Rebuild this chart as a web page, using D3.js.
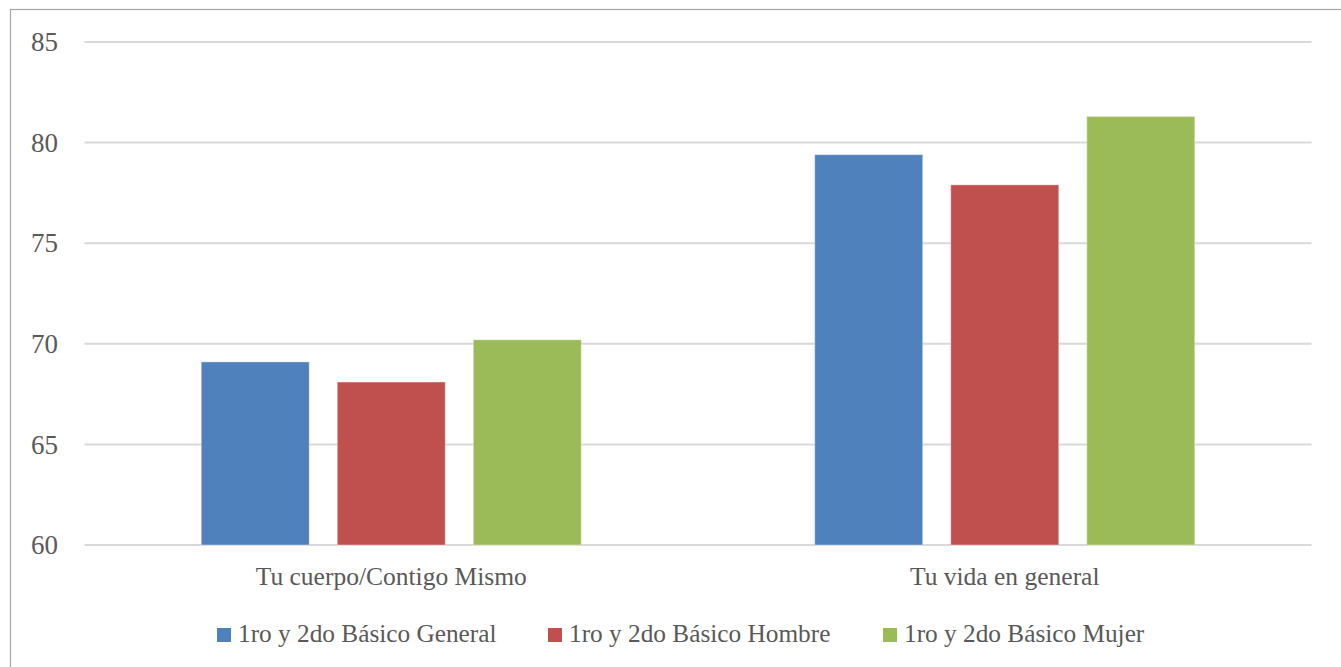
<!DOCTYPE html>
<html><head><meta charset="utf-8">
<script src="https://cdn.jsdelivr.net/npm/d3@7"></script>
<style>body{margin:0;background:#fff}svg{display:block}</style>
</head><body>
<svg id="c" width="1341" height="667"></svg>
<script>
const categories = ["Tu cuerpo/Contigo Mismo", "Tu vida en general"];
const seriesNames = ["1ro y 2do Básico General", "1ro y 2do Básico Hombre", "1ro y 2do Básico Mujer"];
const seriesColors = ["#4F81BD", "#C0504D", "#9BBB59"];
const general = [69.1, 79.4];
const hombre = [68.1, 77.9];
const mujer = [70.2, 81.3];
const yTicks = [60, 65, 70, 75, 80, 85];

(function () {
const seriesValues = [general, hombre, mujer];
const svg = d3.select("#c");
const font = "'Liberation Serif', serif";
const textColor = "#595959";

// outer border
svg.append("rect").attr("x", 10.5).attr("y", 9.5).attr("width", 1340).attr("height", 680)
  .attr("fill", "none").attr("stroke", "#a6a6a6").attr("stroke-width", 1.2);

const pLeft = 84.5, pRight = 1311.5, pTop = 42, pBottom = 545;
const y = d3.scaleLinear().domain([60, 85]).range([pBottom, pTop]);
const x0 = d3.scaleBand().domain(categories).range([pLeft, pRight]).paddingInner(0).paddingOuter(0);
const x1 = d3.scaleBand().domain(d3.range(3)).range([0, x0.bandwidth()]).paddingInner(0.206).paddingOuter(0.858);

// gridlines
svg.append("g").selectAll("line").data(yTicks).join("line")
  .attr("x1", pLeft).attr("x2", pRight)
  .attr("y1", d => y(d)).attr("y2", d => y(d))
  .attr("stroke", "#d9d9d9").attr("stroke-width", 2);

// y axis labels
const yAxis = d3.axisLeft(y).tickValues(yTicks).tickSize(0).tickPadding(0);
const yg = svg.append("g").attr("transform", `translate(58,0)`).call(yAxis);
yg.select(".domain").remove();
yg.selectAll("text").attr("font-family", font).attr("font-size", 27).attr("fill", textColor);

// bars
const groups = svg.append("g").selectAll("g").data(categories).join("g")
  .attr("transform", d => `translate(${x0(d)},0)`);
groups.selectAll("rect").data((c, ci) => seriesValues.map((s, si) => ({si, v: s[ci]})))
  .join("rect")
  .attr("x", d => x1(d.si)).attr("width", x1.bandwidth())
  .attr("y", d => y(d.v)).attr("height", d => y(60) - y(d.v))
  .attr("fill", d => seriesColors[d.si])
  .attr("stroke", "#ffffff").attr("stroke-opacity", 0.4).attr("stroke-width", 1);

// x axis labels
const xAxis = d3.axisBottom(x0).tickSize(0).tickPadding(0);
const xg = svg.append("g").attr("transform", `translate(0,0)`).call(xAxis);
xg.select(".domain").remove();
xg.selectAll("text").attr("y", 585).attr("dy", null)
  .attr("font-family", font).attr("font-size", 25.5).attr("fill", textColor);

// legend
const legendX = [217, 548, 883];
const lg = svg.append("g").selectAll("g").data(seriesNames).join("g")
  .attr("transform", (d, i) => `translate(${legendX[i]},0)`);
lg.append("rect").attr("x", 0).attr("y", 628).attr("width", 14).attr("height", 14)
  .attr("fill", (d, i) => seriesColors[i]);
lg.append("text").attr("x", 21).attr("y", 642)
  .attr("font-family", font).attr("font-size", 25.3).attr("fill", textColor).text(d => d);
})();
</script>
</body></html>
